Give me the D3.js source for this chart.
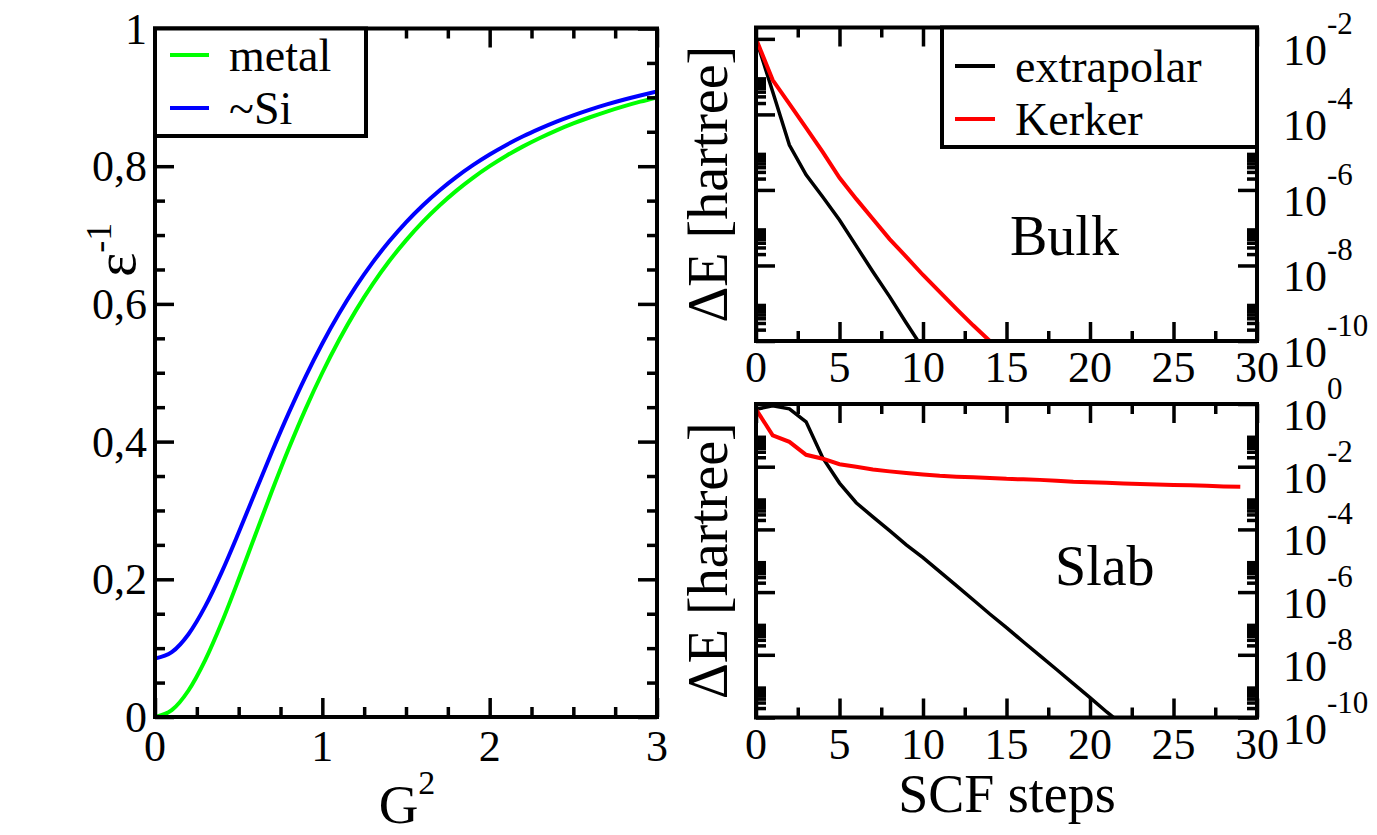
<!DOCTYPE html>
<html><head><meta charset="utf-8">
<script src="https://cdn.jsdelivr.net/npm/d3@7/dist/d3.min.js"></script>
<style>
body{margin:0;background:#fff;}
</style></head>
<body>
<svg id="c" width="1377" height="835" font-family="'Liberation Serif', Tinos, 'Times New Roman', 'Nimbus Roman', 'DejaVu Serif', serif"></svg>
<script>
// ---------- data ----------
const g2 = [0,0.1,0.2,0.3,0.4,0.5,0.6,0.7,0.8,0.9,1.0,1.1,1.2,1.3,1.4,1.5,1.6,1.7,1.8,1.9,2.0,2.1,2.2,2.3,2.4,2.5,2.6,2.7,2.8,2.9,3.0];
const metal = [0,0.0099,0.0385,0.0826,0.1379,0.2,0.2647,0.3289,0.3902,0.4475,0.5,0.5475,0.5902,0.6283,0.6622,0.6923,0.7191,0.7429,0.7642,0.7831,0.8,0.8152,0.8288,0.841,0.8521,0.8621,0.8711,0.8794,0.8869,0.8937,0.9];
const si = [0.085,0.0941,0.1202,0.1606,0.2112,0.268,0.3272,0.3859,0.442,0.4945,0.5425,0.586,0.625,0.6599,0.6909,0.7185,0.743,0.7648,0.7842,0.8015,0.817,0.8309,0.8434,0.8545,0.8647,0.8738,0.8821,0.8897,0.8965,0.9027,0.9085];

const bulkExtrapolar = [1.0e-2,4.0e-4,1.55e-5,2.5e-6,6.5e-7,1.6e-7,3.3e-8,6.8e-9,1.5e-9,3.0e-10,6.3e-11];
const bulkKerker = [1.0e-2,8.1e-4,1.9e-4,4.4e-5,1.0e-5,2.1e-6,5.8e-7,1.7e-7,5.0e-8,1.7e-8,5.6e-9,2.0e-9,7.1e-10,2.6e-10,1.0e-10];
const slabExtrapolar = [0.68,0.87,0.70,0.27,1.9e-2,3.0e-3,7.1e-4,2.5e-4,9.1e-5,3.2e-5,1.26e-5,4.5e-6,1.6e-6,5.7e-7,2.0e-7,7.4e-8,2.6e-8,9.4e-9,3.4e-9,1.2e-9,4.3e-10,1.5e-10,5.6e-11];
const slabKerker = [0.68,0.10,0.062,0.024,0.018,0.012,9.9e-3,8.2e-3,7.1e-3,6.3e-3,5.6e-3,5.1e-3,4.8e-3,4.6e-3,4.4e-3,4.1e-3,3.95e-3,3.8e-3,3.55e-3,3.3e-3,3.2e-3,3.05e-3,2.9e-3,2.8e-3,2.7e-3,2.6e-3,2.55e-3,2.45e-3,2.35e-3,2.3e-3];

const leftXTicks = [0,1,2,3];
const leftYTicks = [0,0.2,0.4,0.6,0.8,1];
const leftYLabels = ["0","0,2","0,4","0,6","0,8","1"];
const scfTicks = [0,5,10,15,20,25,30];
const bulkExp = [-2,-4,-6,-8,-10];
const slabExp = [0,-2,-4,-6,-8,-10];
const legendLeft = ["metal","~Si"];
const legendRight = ["extrapolar","Kerker"];

// ---------- drawing ----------
const svg = d3.select("#c");
const FONT_TICK = 44;
const MAJ = 19, MIN = 10, TW = 3.5;

function tickAxis(g, axis, transform){
  const a = g.append("g").attr("transform", transform).call(axis);
  a.select(".domain").remove();
  a.selectAll("line").attr("stroke","#000").attr("stroke-width",TW);
  a.selectAll("text").remove();
  return a;
}
function frameTicks(x, y, xMaj, xMin, yMaj, yMin){
  const [x0,x1] = x.range(); const [y0,y1] = y.range();
  const g = svg.append("g");
  tickAxis(g, d3.axisBottom(x).tickValues(xMaj).tickSize(-MAJ).tickFormat(""), `translate(0,${y0})`);
  tickAxis(g, d3.axisBottom(x).tickValues(xMin).tickSize(-MIN).tickFormat(""), `translate(0,${y0})`);
  tickAxis(g, d3.axisTop(x).tickValues(xMaj).tickSize(-MAJ).tickFormat(""), `translate(0,${y1})`);
  tickAxis(g, d3.axisTop(x).tickValues(xMin).tickSize(-MIN).tickFormat(""), `translate(0,${y1})`);
  tickAxis(g, d3.axisLeft(y).tickValues(yMaj).tickSize(-MAJ).tickFormat(""), `translate(${x0},0)`);
  tickAxis(g, d3.axisLeft(y).tickValues(yMin).tickSize(-MIN).tickFormat(""), `translate(${x0},0)`);
  tickAxis(g, d3.axisRight(y).tickValues(yMaj).tickSize(-MAJ).tickFormat(""), `translate(${x1},0)`);
  tickAxis(g, d3.axisRight(y).tickValues(yMin).tickSize(-MIN).tickFormat(""), `translate(${x1},0)`);
  svg.append("rect").attr("x",x0).attr("y",y1).attr("width",x1-x0).attr("height",y0-y1)
    .attr("fill","none").attr("stroke","#000").attr("stroke-width",4);
}
function clip(id, x, y){
  const [x0,x1] = x.range(); const [y0,y1] = y.range();
  svg.append("clipPath").attr("id",id).append("rect")
    .attr("x",x0).attr("y",y1).attr("width",x1-x0).attr("height",y0-y1);
}

// ===== Left panel =====
const xL = d3.scaleLinear().domain([0,3]).range([155,657]);
const yL = d3.scaleLinear().domain([0,1]).range([717,28.5]);
clip("cl", xL, yL);
const lineL = (vals) => d3.line().x((d,i)=>xL(g2[i])).y(d=>yL(d)).curve(d3.curveMonotoneX)(vals);
svg.append("path").attr("d", lineL(metal)).attr("fill","none").attr("stroke","#00ff00").attr("stroke-width",4).attr("clip-path","url(#cl)");
svg.append("path").attr("d", lineL(si)).attr("fill","none").attr("stroke","#0000ff").attr("stroke-width",4).attr("clip-path","url(#cl)");
frameTicks(xL, yL, leftXTicks, d3.range(0,3.01,0.25).filter(v=>Math.abs(v-Math.round(v))>1e-6),
  leftYTicks, d3.range(0,1.001,0.05).filter(v=>Math.abs(v*5-Math.round(v*5))>1e-6));
svg.append("g").selectAll("text").data(leftXTicks).join("text")
  .attr("x",d=>xL(d)).attr("y",761).attr("text-anchor","middle").attr("font-size",FONT_TICK).text(d=>d);
svg.append("g").selectAll("text").data(leftYTicks).join("text")
  .attr("x",147).attr("y",d=>yL(d)+15).attr("text-anchor","end").attr("font-size",FONT_TICK).text((d,i)=>leftYLabels[i]);
// axis labels
const gl = svg.append("text").attr("x",407).attr("y",823).attr("text-anchor","middle").attr("font-size",55);
gl.append("tspan").text("G");
gl.append("tspan").attr("font-size",34).attr("dy",-29).text("2");
const el = svg.append("text").attr("transform","translate(135,277) rotate(-90)").attr("font-size",58);
el.append("tspan").text("ε");
el.append("tspan").attr("font-size",36).attr("dy",-24).text("-1");
// legend
svg.append("rect").attr("x",155).attr("y",28.5).attr("width",211).attr("height",107.5)
  .attr("fill","#fff").attr("stroke","#000").attr("stroke-width",4);
const legColL = ["#00ff00","#0000ff"];
legendLeft.forEach((t,i)=>{
  const yy = 55 + i*53;
  svg.append("line").attr("x1",170).attr("x2",209).attr("y1",yy).attr("y2",yy).attr("stroke",legColL[i]).attr("stroke-width",4);
  svg.append("text").attr("x",229).attr("y",yy+16).attr("font-size",46).text(t);
});

// ===== Right panels =====
const xR = d3.scaleLinear().domain([0,30]).range([756,1257]);
const yB = d3.scaleLog().domain([1e-10,0.02]).range([341,27.5]);
const yS = d3.scaleLog().domain([1e-10,1]).range([717.5,404]);
function logMinors(exps, dom){
  const out=[];
  exps.forEach(e=>{ for(let k=2;k<=9;k++){ const v=k*Math.pow(10,e); if(v>=dom[0]&&v<dom[1]*0.999) out.push(v);} });
  return out;
}
function rightPanel(y, exps, seriesA, seriesB, id, label, lx, ly){
  clip(id, xR, y);
  const ln = d3.line().x((d,i)=>xR(i)).y(d=>y(d));
  svg.append("path").attr("d", ln(seriesA)).attr("fill","none").attr("stroke","#000").attr("stroke-width",3.5).attr("clip-path",`url(#${id})`);
  svg.append("path").attr("d", ln(seriesB)).attr("fill","none").attr("stroke","#ff0000").attr("stroke-width",4).attr("clip-path",`url(#${id})`);
  frameTicks(xR, y, scfTicks, [2.5,7.5,12.5,17.5,22.5,27.5],
    exps.map(e=>Math.pow(10,e)), logMinors(exps, y.domain()));
  const [y0] = y.range();
  svg.append("g").selectAll("text").data(scfTicks).join("text")
    .attr("x",d=>xR(d)).attr("y",y0+41).attr("text-anchor","middle").attr("font-size",FONT_TICK).text(d=>d);
  exps.forEach(e=>{
    const t = svg.append("text").attr("x",1283).attr("y",y(Math.pow(10,e))+26).attr("font-size",FONT_TICK);
    t.append("tspan").text("10");
    t.append("tspan").attr("font-size",31).attr("dy",-31).text(String(e));
  });
  const cy = (y.range()[0]+y.range()[1])/2;
  svg.append("text").attr("transform",`translate(727,${cy}) rotate(-90)`).attr("text-anchor","middle")
    .attr("font-size",56).text("ΔE [hartree]");
  svg.append("text").attr("x",lx).attr("y",ly).attr("font-size",56).text(label);
}
rightPanel(yB, bulkExp, bulkExtrapolar, bulkKerker, "cb", "Bulk", 1010, 255);
rightPanel(yS, slabExp, slabExtrapolar, slabKerker, "cs", "Slab", 1055, 585);

// legend right
svg.append("rect").attr("x",942).attr("y",27.5).attr("width",315).attr("height",119.5)
  .attr("fill","#fff").attr("stroke","#000").attr("stroke-width",4);
const legColR = ["#000","#ff0000"];
legendRight.forEach((t,i)=>{
  const yy = 66 + i*53;
  svg.append("line").attr("x1",955).attr("x2",995).attr("y1",yy).attr("y2",yy).attr("stroke",legColR[i]).attr("stroke-width",4);
  svg.append("text").attr("x",1015).attr("y",yy+16).attr("font-size",46).text(t);
});

svg.append("text").attr("x",1007).attr("y",812).attr("text-anchor","middle").attr("font-size",54).text("SCF steps");
</script>
</body></html>
